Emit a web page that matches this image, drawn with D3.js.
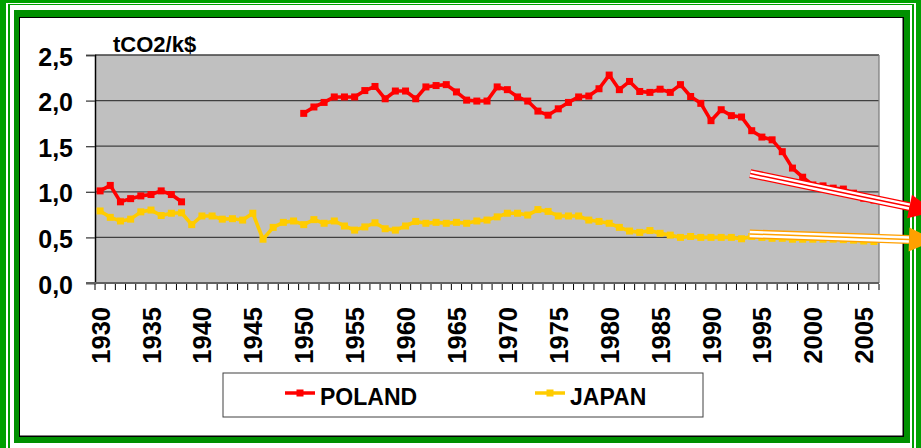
<!DOCTYPE html>
<html><head><meta charset="utf-8">
<script src="https://cdn.jsdelivr.net/npm/d3@7/dist/d3.min.js"></script>
<style>
html,body{margin:0;padding:0;background:#fff;overflow:hidden;}
text{font-family:"Liberation Sans",Arial,sans-serif;font-weight:bold;fill:#000;}
</style></head>
<body>
<script>
// ---------- DATA ----------
const years = d3.range(1930, 2007); // categories 1930..2006
const tickYears = [1930,1935,1940,1945,1950,1955,1960,1965,1970,1975,1980,1985,1990,1995,2000,2005];
const yTicks = [0, 0.5, 1.0, 1.5, 2.0, 2.5];
const yTickLabels = ["0,0","0,5","1,0","1,5","2,0","2,5"];
const unitLabel = "tCO2/k$";
const seriesNames = ["POLAND", "JAPAN"];

const polandValues = [
  1.01,1.07,0.89,0.925,0.955,0.97,1.01,0.97,0.89,          // 1930-1938
  null,null,null,null,null,null,null,null,null,null,null,   // 1939-1949
  1.86,1.93,1.98,2.04,2.04,2.04,2.11,2.155,2.02,2.105,      // 1950-1959
  2.105,2.02,2.15,2.165,2.175,2.095,2.005,1.995,1.995,2.15, // 1960-1969
  2.12,2.04,1.995,1.885,1.84,1.91,1.98,2.04,2.05,2.13,      // 1970-1979
  2.28,2.12,2.21,2.10,2.09,2.125,2.09,2.175,2.045,1.97,     // 1980-1989
  1.78,1.90,1.835,1.82,1.67,1.60,1.57,1.44,1.26,1.16,       // 1990-1999
  1.075,1.065,1.04,1.03,0.985,0.93,0.91                     // 2000-2006
];
const japanValues = [
  0.79,0.72,0.68,0.70,0.78,0.80,0.74,0.765,0.77,0.64,       // 1930-1939
  0.735,0.735,0.70,0.705,0.69,0.765,0.48,0.61,0.665,0.68,   // 1940-1949
  0.64,0.695,0.655,0.68,0.625,0.58,0.615,0.66,0.595,0.58,   // 1950-1959
  0.625,0.675,0.655,0.665,0.655,0.665,0.655,0.68,0.69,0.725,// 1960-1969
  0.765,0.765,0.745,0.805,0.785,0.735,0.735,0.735,0.69,0.675,// 1970-1979
  0.655,0.61,0.57,0.555,0.575,0.545,0.525,0.50,0.51,0.50,   // 1980-1989
  0.50,0.50,0.50,0.485,0.51,0.50,0.49,0.49,0.48,0.48,       // 1990-1999
  0.48,0.48,0.48,0.475,0.47,0.46,0.455                      // 2000-2006
];
// trend arrows (year, value) pairs
const arrowFrom = [[1993.85, 1.20], [1993.8, 0.538]];
const arrowTo   = [[2012.0, 0.78], [2012.0, 0.467]];

// ---------- STYLE / LAYOUT ----------
const W = 921, H = 448;
const colors = {POLAND: "#ff0000", JAPAN: "#ffcc00"};
const arrowColors = ["#ff0000", "#ffa000"];
const plot = {left: 95, right: 879, top: 55, bottom: 283};

const svg = d3.select("body").append("svg").attr("width", W).attr("height", H);

// ---------- FRAME ----------
const g0 = svg.append("g");
g0.append("rect").attr("x",0).attr("y",0).attr("width",W).attr("height",H+30).attr("fill","#00a000");
g0.append("rect").attr("x",6).attr("y",3).attr("width",910).attr("height",H+20).attr("fill","#ffffff");
g0.append("rect").attr("x",8).attr("y",4).attr("width",906).attr("height",H+20).attr("fill","#00a000");
g0.append("rect").attr("x",10).attr("y",5).attr("width",902).attr("height",H+20).attr("fill","#ffffff");
g0.append("rect").attr("x",14).attr("y",10).attr("width",896).attr("height",433).attr("fill","#009000");
g0.append("rect").attr("x",19).attr("y",17).attr("width",885).attr("height",420).attr("fill","#000000");
g0.append("rect").attr("x",20).attr("y",18).attr("width",882.5).attr("height",417.5).attr("fill","#ffffff");

// ---------- SCALES ----------
const x = d3.scaleBand().domain(years).range([plot.left, plot.right]).paddingInner(0).paddingOuter(0);
const bw = x.bandwidth();
const cx = yr => x(yr) + bw / 2;
const xYear = d3.scaleLinear().domain([years[0], years[years.length-1]])
  .range([cx(years[0]), cx(years[years.length-1])]);
const y = d3.scaleLinear().domain([0, 2.5]).range([plot.bottom, plot.top]);

// plot background
svg.append("rect").attr("x", plot.left).attr("y", plot.top)
  .attr("width", plot.right - plot.left).attr("height", plot.bottom - plot.top)
  .attr("fill", "#c0c0c0");

// gridlines
svg.append("g").selectAll("line").data(yTicks.filter(d => d > 0)).join("line")
  .attr("x1", plot.left).attr("x2", plot.right)
  .attr("y1", d => y(d)).attr("y2", d => y(d))
  .attr("stroke", "#404040").attr("stroke-width", 1.3);

// right border
svg.append("line").attr("x1", plot.right).attr("x2", plot.right)
  .attr("y1", plot.top).attr("y2", plot.bottom).attr("stroke", "#808080").attr("stroke-width", 1.3);

// y axis
const yAxis = d3.axisLeft(y).tickValues(yTicks).tickSize(9)
  .tickFormat((d, i) => yTickLabels[i]).tickPadding(13);
const gy = svg.append("g").attr("transform", `translate(${plot.left},0)`).call(yAxis);
gy.select(".domain").attr("stroke", "#000").attr("stroke-width", 1.5);
gy.selectAll(".tick line").attr("stroke", "#404040").attr("stroke-width", 1.3);
gy.selectAll(".tick text").attr("font-size", 25).attr("font-family", "Liberation Sans, Arial, sans-serif")
  .attr("font-weight", "bold").attr("fill", "#000").attr("dy", "0.4em");

// x axis (ticks between categories)
const gx = svg.append("g").attr("transform", `translate(0,${plot.bottom})`);
gx.append("line").attr("x1", plot.left - 9).attr("x2", plot.right).attr("y1", 0).attr("y2", 0)
  .attr("stroke", "#606060").attr("stroke-width", 2.2);
const boundaries = years.map(d => x(d)).concat([x(years[years.length-1]) + bw]);
gx.selectAll("line.tk").data(boundaries).join("line").attr("class", "tk")
  .attr("x1", d => d).attr("x2", d => d).attr("y1", 1).attr("y2", 7)
  .attr("stroke", "#000").attr("stroke-width", 1);
gx.selectAll("text.lbl").data(tickYears).join("text").attr("class", "lbl")
  .attr("transform", d => `translate(${cx(d) + 9.5},${24}) rotate(-90)`)
  .attr("text-anchor", "end").attr("font-size", 25.5).text(d => d);

// unit label
svg.append("text").attr("x", 113).attr("y", 52).attr("font-size", 22).text(unitLabel);

// ---------- SERIES ----------
const seriesData = [
  {name: "POLAND", values: polandValues},
  {name: "JAPAN", values: japanValues}
];
const line = d3.line().defined(d => d.v != null).x(d => cx(d.yr)).y(d => y(d.v));
const ms = 7;
seriesData.forEach(s => {
  const pts = years.map((yr, i) => ({yr, v: s.values[i]}));
  svg.append("path").datum(pts).attr("d", line).attr("fill", "none")
    .attr("stroke", colors[s.name]).attr("stroke-width", 3.6).attr("stroke-linejoin", "round");
  svg.append("g").selectAll("rect").data(pts.filter(d => d.v != null)).join("rect")
    .attr("x", d => cx(d.yr) - ms/2).attr("y", d => y(d.v) - ms/2)
    .attr("width", ms).attr("height", ms).attr("fill", colors[s.name]);
});

// ---------- TREND ARROWS ----------
arrowFrom.forEach((f, i) => {
  const x1 = xYear(f[0]), y1 = y(f[1]);
  const x2 = xYear(arrowTo[i][0]), y2 = y(arrowTo[i][1]);
  const ang = Math.atan2(y2 - y1, x2 - x1);
  const headLen = 26, headHalf = 12;
  const bx = x2 - headLen * Math.cos(ang), by = y2 - headLen * Math.sin(ang);
  const c = arrowColors[i];
  const ga = svg.append("g");
  [[9, c], [6.4, "#ffffff"], [1.5, c]].forEach(([w, col]) => {
    ga.append("line").attr("x1", x1).attr("y1", y1).attr("x2", bx).attr("y2", by)
      .attr("stroke", col).attr("stroke-width", w);
  });
  const px = -Math.sin(ang), py = Math.cos(ang);
  ga.append("path").attr("d",
    `M${x2},${y2} L${bx + px*headHalf},${by + py*headHalf} L${bx - px*headHalf},${by - py*headHalf} Z`)
    .attr("fill", c);
});

// ---------- LEGEND ----------
const lg = svg.append("g");
lg.append("rect").attr("x", 223).attr("y", 373).attr("width", 480).attr("height", 44)
  .attr("fill", "#fff").attr("stroke", "#404040").attr("stroke-width", 1);
const legendItems = [{name: "POLAND", lx: 285}, {name: "JAPAN", lx: 535}];
legendItems.forEach(it => {
  lg.append("line").attr("x1", it.lx).attr("x2", it.lx + 30).attr("y1", 393).attr("y2", 393)
    .attr("stroke", colors[it.name]).attr("stroke-width", 3.5);
  lg.append("rect").attr("x", it.lx + 15 - 3.5).attr("y", 393 - 3.5).attr("width", 7).attr("height", 7)
    .attr("fill", colors[it.name]);
  lg.append("text").attr("x", it.lx + 35).attr("y", 405).attr("font-size", 23).text(it.name);
});
</script>
</body></html>
